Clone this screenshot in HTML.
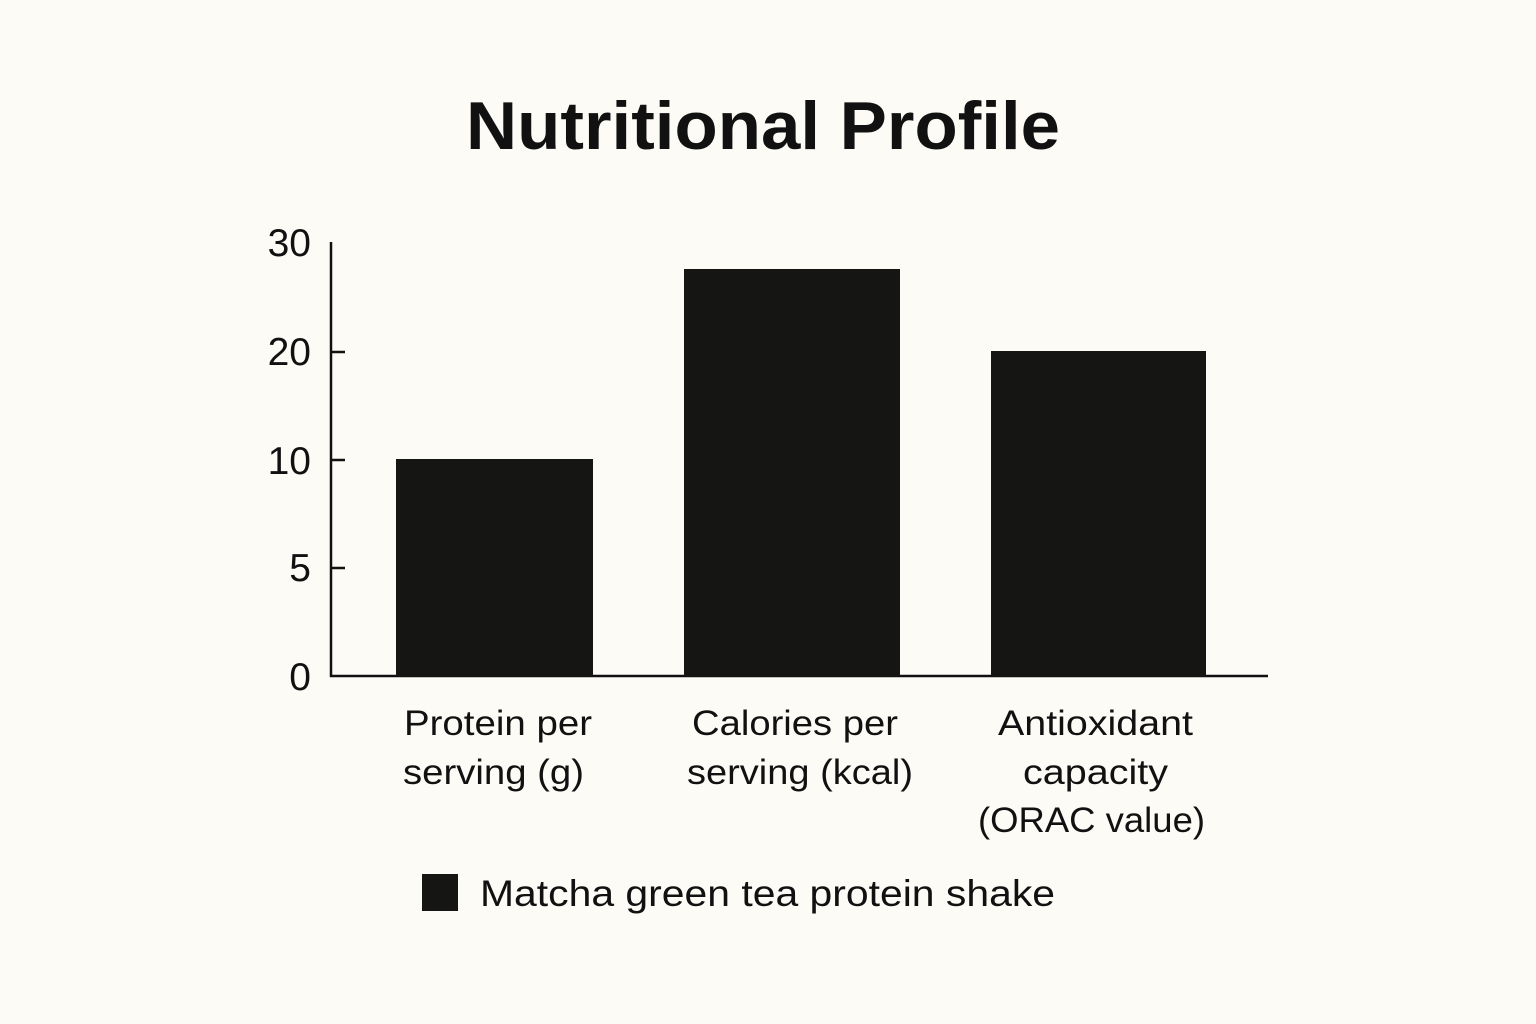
<!DOCTYPE html>
<html><head><meta charset="utf-8"><style>
html,body{margin:0;padding:0;background:#fcfbf6;}
svg{display:block;}
text{font-family:"Liberation Sans",sans-serif;fill:#111;}
</style></head><body>
<svg width="1536" height="1024" viewBox="0 0 1536 1024">
<rect width="1536" height="1024" fill="#fcfbf6"/>
<text x="763" y="149" text-anchor="middle" font-size="68" font-weight="bold" textLength="594" lengthAdjust="spacingAndGlyphs">Nutritional Profile</text>
<g stroke="#111" stroke-width="2.5" fill="none">
<line x1="331" y1="242" x2="331" y2="677"/>
<line x1="330" y1="676" x2="1268" y2="676"/>
<line x1="331" y1="352" x2="345" y2="352"/>
<line x1="331" y1="460" x2="345" y2="460"/>
<line x1="331" y1="568" x2="345" y2="568"/>
</g>
<g font-size="39" text-anchor="end">
<text x="311" y="256">30</text>
<text x="311" y="365">20</text>
<text x="311" y="474">10</text>
<text x="311" y="581">5</text>
<text x="311" y="690">0</text>
</g>
<g fill="#151513">
<rect x="396" y="459" width="197" height="217"/>
<rect x="684" y="269" width="216" height="407"/>
<rect x="991" y="351" width="215" height="325"/>
</g>
<g font-size="35" lengthAdjust="spacingAndGlyphs">
<text x="404" y="735" textLength="188" lengthAdjust="spacingAndGlyphs">Protein per</text>
<text x="403" y="784" textLength="181" lengthAdjust="spacingAndGlyphs">serving (g)</text>
<text x="692" y="735" textLength="206" lengthAdjust="spacingAndGlyphs">Calories per</text>
<text x="687" y="784" textLength="226" lengthAdjust="spacingAndGlyphs">serving (kcal)</text>
<text x="998" y="735" textLength="195" lengthAdjust="spacingAndGlyphs">Antioxidant</text>
<text x="1023" y="784" textLength="145" lengthAdjust="spacingAndGlyphs">capacity</text>
<text x="978" y="832" textLength="227" lengthAdjust="spacingAndGlyphs">(ORAC value)</text>
</g>
<rect x="422" y="874" width="36" height="37" fill="#151513"/>
<text x="480" y="906" font-size="37" textLength="575" lengthAdjust="spacingAndGlyphs">Matcha green tea protein shake</text>
</svg>
</body></html>
